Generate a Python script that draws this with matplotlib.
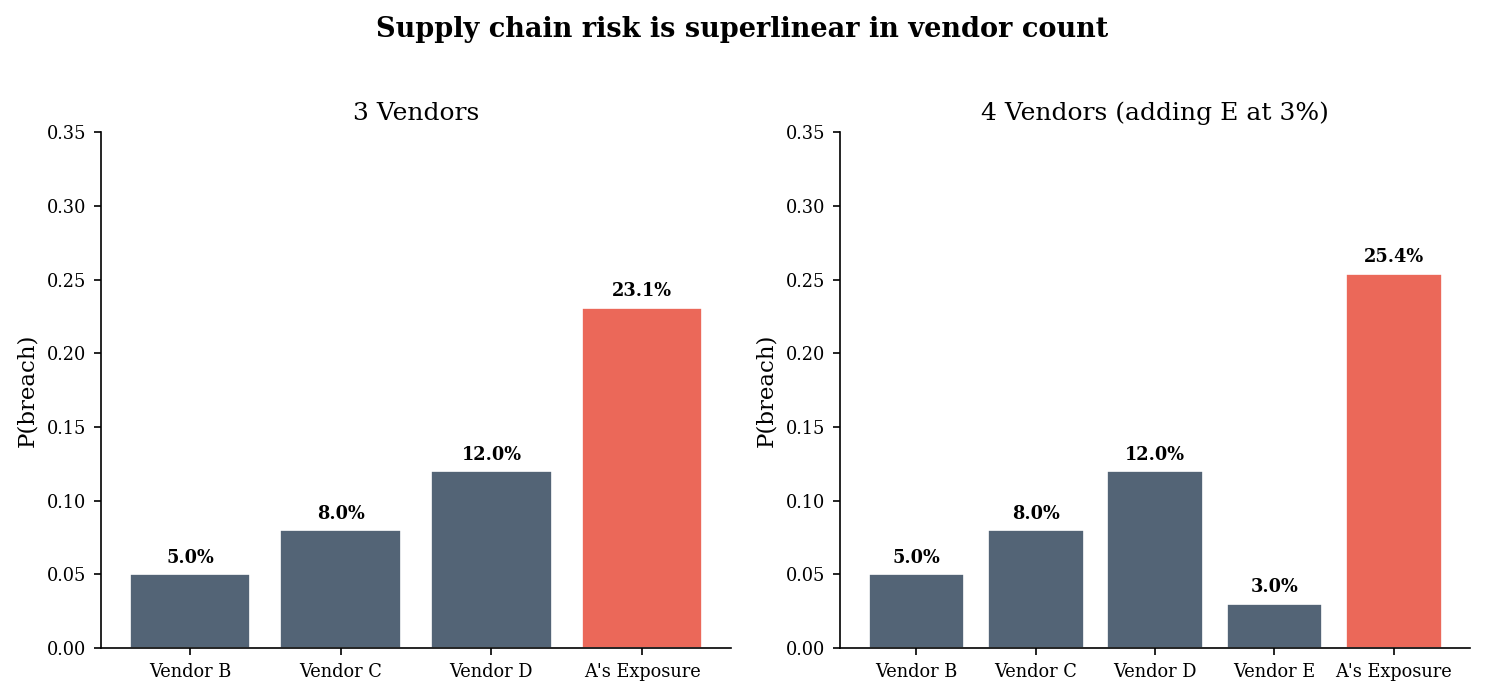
import matplotlib
matplotlib.use("Agg")
import matplotlib.pyplot as plt

plt.rcParams['font.family'] = ['DejaVu Serif']

# data
labels_3 = ["Vendor B", "Vendor C", "Vendor D", "A's Exposure"]
values_3 = [0.05, 0.08, 0.12, 0.231]
labels_4 = ["Vendor B", "Vendor C", "Vendor D", "Vendor E", "A's Exposure"]
values_4 = [0.05, 0.08, 0.12, 0.03, 0.254]

GREY = '#536476'
RED = '#EB6859'

fig, axes = plt.subplots(1, 2, figsize=(9.9, 4.64), dpi=150)
fig.subplots_adjust(left=0.068, right=0.99, top=0.81, bottom=0.069, wspace=0.173)

panels = [
    (axes[0], labels_3, values_3, "3 Vendors"),
    (axes[1], labels_4, values_4, "4 Vendors (adding E at 3%)"),
]

for ax, labels, values, title in panels:
    colors = [GREY] * (len(values) - 1) + [RED]
    bars = ax.bar(labels, values, color=colors, width=0.8, edgecolor='white', linewidth=0.8)
    for b, v in zip(bars, values):
        ax.text(b.get_x() + b.get_width() / 2, v + 0.005, f"{v*100:.1f}%",
                ha='center', va='bottom', fontsize=8.5, fontweight='bold')
    ax.set_ylim(0, 0.35)
    ax.set_yticks([0, 0.05, 0.10, 0.15, 0.20, 0.25, 0.30, 0.35])
    ax.set_yticklabels([f"{t:.2f}" for t in ax.get_yticks()])
    ax.set_ylabel("P(breach)", fontsize=11)
    ax.set_title(title, fontsize=12)
    ax.tick_params(labelsize=8.5)
    ax.spines['top'].set_visible(False)
    ax.spines['right'].set_visible(False)

fig.suptitle("Supply chain risk is superlinear in vendor count", fontsize=13, fontweight='bold', y=0.977)

fig.savefig("out.png", dpi=150)
